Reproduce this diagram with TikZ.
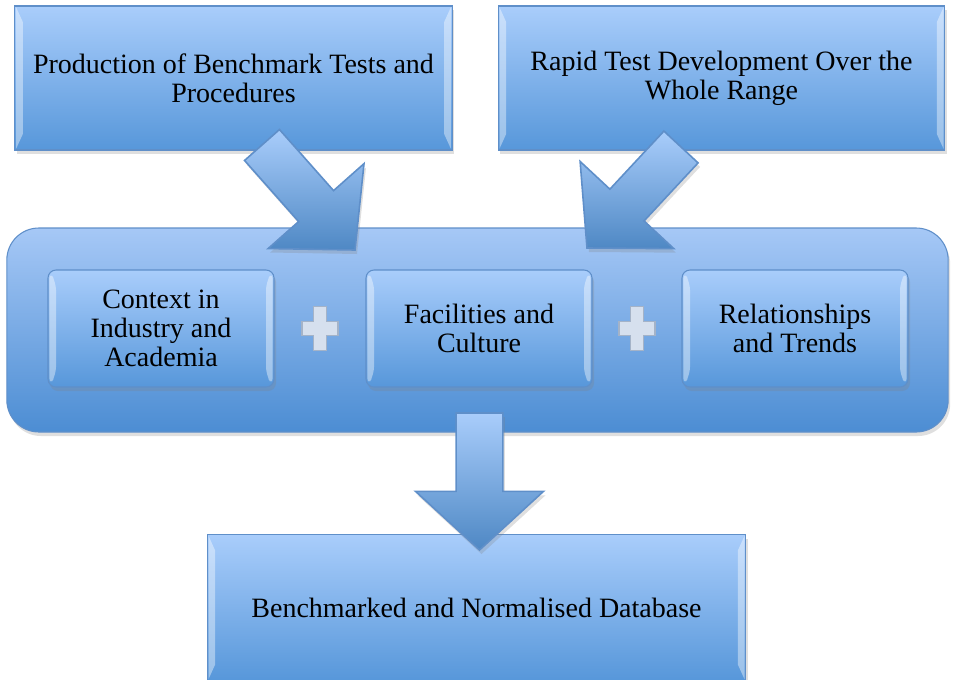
\documentclass[tikz,border=0pt]{standalone}
\usepackage{fontspec}
\setmainfont{Liberation Serif}
\usetikzlibrary{calc,shadows}

\definecolor{boxtop}{HTML}{A9CDFB}
\definecolor{boxbot}{HTML}{5797DA}
\definecolor{boxline}{HTML}{5F8FC9}
\definecolor{frametop}{HTML}{A6C8F6}
\definecolor{framebot}{HTML}{4C8DD3}
\definecolor{plusfill}{HTML}{D6E0EE}
\definecolor{plusline}{HTML}{A4B3C8}

\newcommand{\shaftw}{17.5pt}
\newcommand{\headw}{48pt}
\newcommand{\headl}{44pt}
% block arrow from #1 (back) to #2 (tip)
\newcommand{\blockarrow}[2]{%
  \path[bigarrow] ($(#1)!\shaftw!90:(#2)$)
    -- ($(#2)!\headl!(#1)!\shaftw!-90:(#1)$)
    -- ($(#2)!\headl!(#1)!\headw!-90:(#1)$)
    -- (#2)
    -- ($(#2)!\headl!(#1)!\headw!90:(#1)$)
    -- ($(#2)!\headl!(#1)!\shaftw!90:(#1)$)
    -- ($(#1)!\shaftw!-90:(#2)$) -- cycle;}

\begin{document}
\begin{tikzpicture}[x=0.75pt,y=-0.75pt]
    \tikzset{bevel/.style = {path picture={
        \fill[white, opacity=0.4] ([xshift=1pt,yshift=-1pt]path picture bounding box.north west) -- ([xshift=6pt,yshift=-#1]path picture bounding box.north west) -- ([xshift=6pt,yshift=#1]path picture bounding box.south west) -- ([xshift=1pt,yshift=1pt]path picture bounding box.south west) -- cycle;
        \fill[white, opacity=0.4] ([xshift=-1pt,yshift=-1pt]path picture bounding box.north east) -- ([xshift=-6pt,yshift=-#1]path picture bounding box.north east) -- ([xshift=-6pt,yshift=#1]path picture bounding box.south east) -- ([xshift=-1pt,yshift=1pt]path picture bounding box.south east) -- cycle;}}}
    \tikzset{box/.style = {shape=rectangle, draw=boxline, line width=0.8pt, top color=boxtop, bottom color=boxbot, align=center, font=\fontsize{21}{22}\selectfont, drop shadow={opacity=0.25, shadow xshift=1.5pt, shadow yshift=-3pt}}}
    \tikzset{inbox/.style = {box, bevel=9pt, rounded corners=6pt, minimum width=169.5pt, minimum height=87.75pt}}
    \tikzset{bigarrow/.style = {draw=boxline, line width=1.2pt, top color=boxtop, bottom color=boxbot!90!black, drop shadow={opacity=0.25, shadow xshift=1.5pt, shadow yshift=-3pt}}}
    \tikzset{plus/.style = {draw=plusline, fill=plusfill, line width=0.8pt}}
    \useasboundingbox (0,0) rectangle (954,679);
    % boxes
    \node[box, bevel=12pt, minimum width=328pt, minimum height=108pt] (prod) at (233.5,78) {Production of Benchmark Tests and\\Procedures};
    \node[box, bevel=12pt, minimum width=335pt, minimum height=108pt] (rapid) at (721.5,78) {Rapid Test Development Over the\\Whole Range};
    \node[box, rounded corners=24pt, top color=frametop, bottom color=framebot, minimum width=706pt, minimum height=153pt] (frame) at (477.5,330) {};
    \node[inbox] (ctx) at (161,328.5) {Context in\\Industry and\\Academia};
    \node[inbox] (fac) at (479,328.5) {Facilities and\\Culture};
    \node[inbox] (rel) at (795,328.5) {Relationships\\and Trends};
    \node[box, bevel=12pt, minimum width=404pt, minimum height=109.5pt] (db) at (476.5,607.5) {Benchmarked and Normalised Database};
    % plus signs
    \coordinate (p1) at ($(ctx.east)!0.5!(fac.west)$);
    \coordinate (p2) at ($(fac.east)!0.5!(rel.west)$);
    \draw[plus, shift={(p1)}] (-6.5,-22) -- (6.5,-22) -- (6.5,-7) -- (18,-7) -- (18,7) -- (6.5,7) -- (6.5,22) -- (-6.5,22) -- (-6.5,7) -- (-18,7) -- (-18,-7) -- (-6.5,-7) -- cycle;
    \draw[plus, shift={(p2)}] (-6.5,-22) -- (6.5,-22) -- (6.5,-7) -- (18,-7) -- (18,7) -- (6.5,7) -- (6.5,22) -- (-6.5,22) -- (-6.5,7) -- (-18,7) -- (-18,-7) -- (-6.5,-7) -- cycle;
    %arrows
    \coordinate (a1) at (262,145);
    \coordinate (a1t) at (355,250);
    \coordinate (a2) at (681,147);
    \coordinate (a2t) at (587,248);
    \coordinate (a3) at (479.5,413);
    \coordinate (a3t) at (479.5,550);
    \blockarrow{a1}{a1t}
    \blockarrow{a2}{a2t}
    \blockarrow{a3}{a3t}
\end{tikzpicture}
\end{document}
